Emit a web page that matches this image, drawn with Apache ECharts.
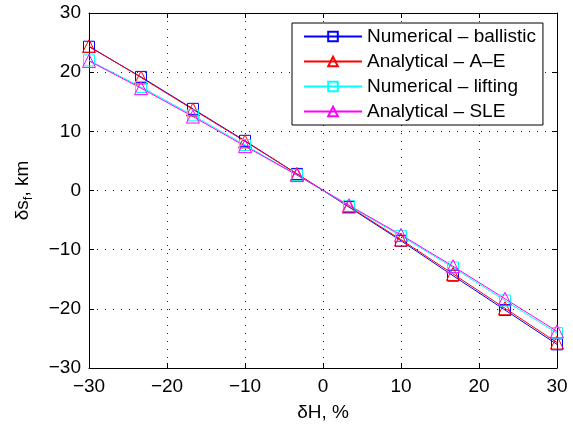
<!DOCTYPE html>
<html><head><meta charset="utf-8">
<script src="https://cdn.jsdelivr.net/npm/echarts@6/dist/echarts.min.js"></script>
<style>html,body{margin:0;padding:0;background:#fff}#c{width:573px;height:424px}</style>
</head><body><div id="c"></div>
<script>
const xValues = [-30, -23.33, -16.67, -10, -3.33, 3.33, 10, 16.67, 23.33, 30];
const numBallistic = [24.3, 19.2, 13.8, 8.4, 2.8, -2.8, -8.5, -14.4, -20.2, -26.0];
const anaAE = [24.4, 19.1, 13.7, 8.3, 2.8, -2.7, -8.3, -14.1, -19.9, -25.7];
const numLifting = [22.0, 17.5, 12.7, 7.7, 2.6, -2.6, -7.7, -13.0, -18.6, -24.1];
const anaSLE = [21.9, 17.3, 12.5, 7.5, 2.6, -2.5, -7.5, -12.8, -18.3, -23.8];
const seriesNames = ['Numerical \u2013 ballistic', 'Analytical \u2013 A\u2013E', 'Numerical \u2013 lifting', 'Analytical \u2013 SLE'];
const seriesColors = ['#0000ff', '#ff0000', '#00ffff', '#ff00ff'];
const xTicks = [-30, -20, -10, 0, 10, 20, 30];
const yTicks = [-30, -20, -10, 0, 10, 20, 30];

const FONT = 'Liberation Sans';
const FS = 19;
function mk(name, vals, color, sym, size) {
  return {
    name: name, type: 'line', data: vals.map((v, i) => [xValues[i], v]),
    symbol: sym, symbolSize: size, showAllSymbol: true,
    color: color,
    lineStyle: { color: color, width: 1, opacity: 1 },
    itemStyle: { color: 'rgba(255,255,255,0)', borderColor: color, borderWidth: 1 },
    emphasis: { disabled: true }, animation: false
  };
}
const fmt = v => (v < 0 ? '\u2212' + Math.abs(v) : String(v));
const chart = echarts.init(document.getElementById('c'), null, { renderer: 'canvas' });
const axCommon = {
  axisLine: { show: true, onZero: false, lineStyle: { color: '#000', width: 1 } },
  axisTick: { show: true, inside: true, length: 5, lineStyle: { color: '#000' } },
  splitLine: { show: false }
};
chart.setOption({
  animation: false,
  backgroundColor: '#fff',
  grid: { left: 89, right: 16, top: 13, bottom: 56, containLabel: false, outerBoundsMode: 'none' },
  legend: {
    orient: 'vertical', left: 292, top: 23,
    padding: [4, 7, 4, 11],
    borderColor: '#000', borderWidth: 1, backgroundColor: '#fff',
    itemWidth: 58, itemHeight: 12, itemGap: 6,
    textStyle: { fontFamily: FONT, fontSize: FS, color: '#000' },
    data: seriesNames
  },
  xAxis: [
    Object.assign({}, axCommon, {
      type: 'value', min: -30, max: 30, interval: 10, position: 'bottom',
      axisLabel: { fontFamily: FONT, fontSize: FS, color: '#000', margin: 9, formatter: fmt },
      splitLine: { show: true, lineStyle: { color: '#222', width: 1, type: [1, 7] } },
      name: '\u03b4H, %', nameLocation: 'middle', nameGap: 35,
      nameTextStyle: { fontFamily: FONT, fontSize: FS, color: '#000' }
    }),
    Object.assign({}, axCommon, {
      type: 'value', min: -30, max: 30, interval: 10, position: 'top',
      axisLabel: { show: false }
    })
  ],
  yAxis: [
    Object.assign({}, axCommon, {
      type: 'value', min: -30, max: 30, interval: 10, position: 'left',
      axisLabel: { fontFamily: FONT, fontSize: FS, color: '#000', margin: 8, formatter: fmt },
      splitLine: { show: true, lineStyle: { color: '#222', width: 1, type: [1, 7] } },
      name: '{a|\u03b4s}{s|f}{a|, km}', nameLocation: 'middle', nameGap: 54, nameRotate: 90,
      nameTextStyle: { fontFamily: FONT, fontSize: FS, color: '#000',
        rich: { a: { fontFamily: FONT, fontSize: FS, color: '#000', lineHeight: 24, verticalAlign: 'middle' },
                s: { fontFamily: FONT, fontSize: 13, color: '#000', lineHeight: 24, verticalAlign: 'bottom' } } }
    }),
    Object.assign({}, axCommon, {
      type: 'value', min: -30, max: 30, interval: 10, position: 'right',
      axisLabel: { show: false }
    })
  ],
  series: [
    mk(seriesNames[0], numBallistic, seriesColors[0], 'rect', 11),
    mk(seriesNames[1], anaAE, seriesColors[1], 'triangle', 13),
    mk(seriesNames[2], numLifting, seriesColors[2], 'rect', 11),
    mk(seriesNames[3], anaSLE, seriesColors[3], 'triangle', 13)
  ]
});
</script></body></html>
